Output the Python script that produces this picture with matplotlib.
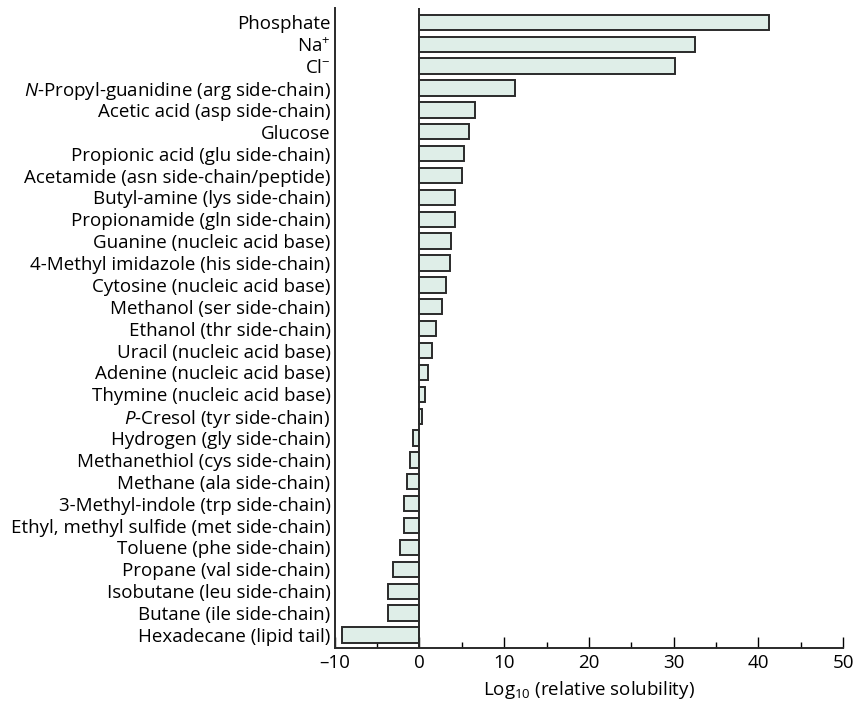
import matplotlib
matplotlib.use("Agg")
import matplotlib.pyplot as plt
from matplotlib.ticker import MultipleLocator

plt.rcParams["font.family"] = ["Open Sans", "DejaVu Sans"]
plt.rcParams["mathtext.fontset"] = "custom"
plt.rcParams["mathtext.rm"] = "Open Sans"
plt.rcParams["mathtext.it"] = "Open Sans:italic"

# compounds, top to bottom
labels = [
    "Phosphate",
    "Na$^{+}$",
    "Cl$^{-}$",
    "$\\it{N}$-Propyl-guanidine (arg side-chain)",
    "Acetic acid (asp side-chain)",
    "Glucose",
    "Propionic acid (glu side-chain)",
    "Acetamide (asn side-chain/peptide)",
    "Butyl-amine (lys side-chain)",
    "Propionamide (gln side-chain)",
    "Guanine (nucleic acid base)",
    "4-Methyl imidazole (his side-chain)",
    "Cytosine (nucleic acid base)",
    "Methanol (ser side-chain)",
    "Ethanol (thr side-chain)",
    "Uracil (nucleic acid base)",
    "Adenine (nucleic acid base)",
    "Thymine (nucleic acid base)",
    "$\\it{P}$-Cresol (tyr side-chain)",
    "Hydrogen (gly side-chain)",
    "Methanethiol (cys side-chain)",
    "Methane (ala side-chain)",
    "3-Methyl-indole (trp side-chain)",
    "Ethyl, methyl sulfide (met side-chain)",
    "Toluene (phe side-chain)",
    "Propane (val side-chain)",
    "Isobutane (leu side-chain)",
    "Butane (ile side-chain)",
    "Hexadecane (lipid tail)",
]
log_solubility = [
    41.2, 32.5, 30.2, 11.3, 6.6, 5.8, 5.2, 5.0, 4.25, 4.25,
    3.75, 3.6, 3.15, 2.7, 2.0, 1.5, 1.0, 0.7, 0.35, -0.75,
    -1.1, -1.5, -1.85, -1.85, -2.3, -3.1, -3.7, -3.7, -9.15,
]
x_ticks = [-10, 0, 10, 20, 30, 40, 50]

fig = plt.figure(figsize=(8.56, 7.06), dpi=100)
ax = fig.add_axes([0.391, 0.082, 0.594, 0.9065])

ypos = list(range(len(labels)))
ax.barh(ypos, log_solubility, height=0.7, color="#dfeee8",
        edgecolor="#2a2a2a", linewidth=1.4, zorder=2)
ax.axvline(0, color="#2a2a2a", linewidth=1.4, zorder=3)

ax.set_ylim(28.6, -0.65)
ax.set_xlim(-10, 50)
ax.set_yticks(ypos)
ax.set_yticklabels(labels, fontsize=13.5)
ax.tick_params(axis="y", length=0, pad=3)
ax.set_xticks(x_ticks)
ax.set_xticklabels(["\u201310" if t < 0 else str(t) for t in x_ticks], fontsize=13.5)
ax.xaxis.set_minor_locator(MultipleLocator(5))
ax.tick_params(axis="x", which="major", direction="in", length=8, width=1.0, pad=4)
ax.tick_params(axis="x", which="minor", direction="in", length=4, width=1.0)
ax.set_xlabel("Log$_{10}$ (relative solubility)", fontsize=13.5, labelpad=5)

for side in ("top", "right"):
    ax.spines[side].set_visible(False)
for side in ("left", "bottom"):
    ax.spines[side].set_linewidth(1.4)
    ax.spines[side].set_color("#2a2a2a")

fig.savefig("out.png", dpi=100)
